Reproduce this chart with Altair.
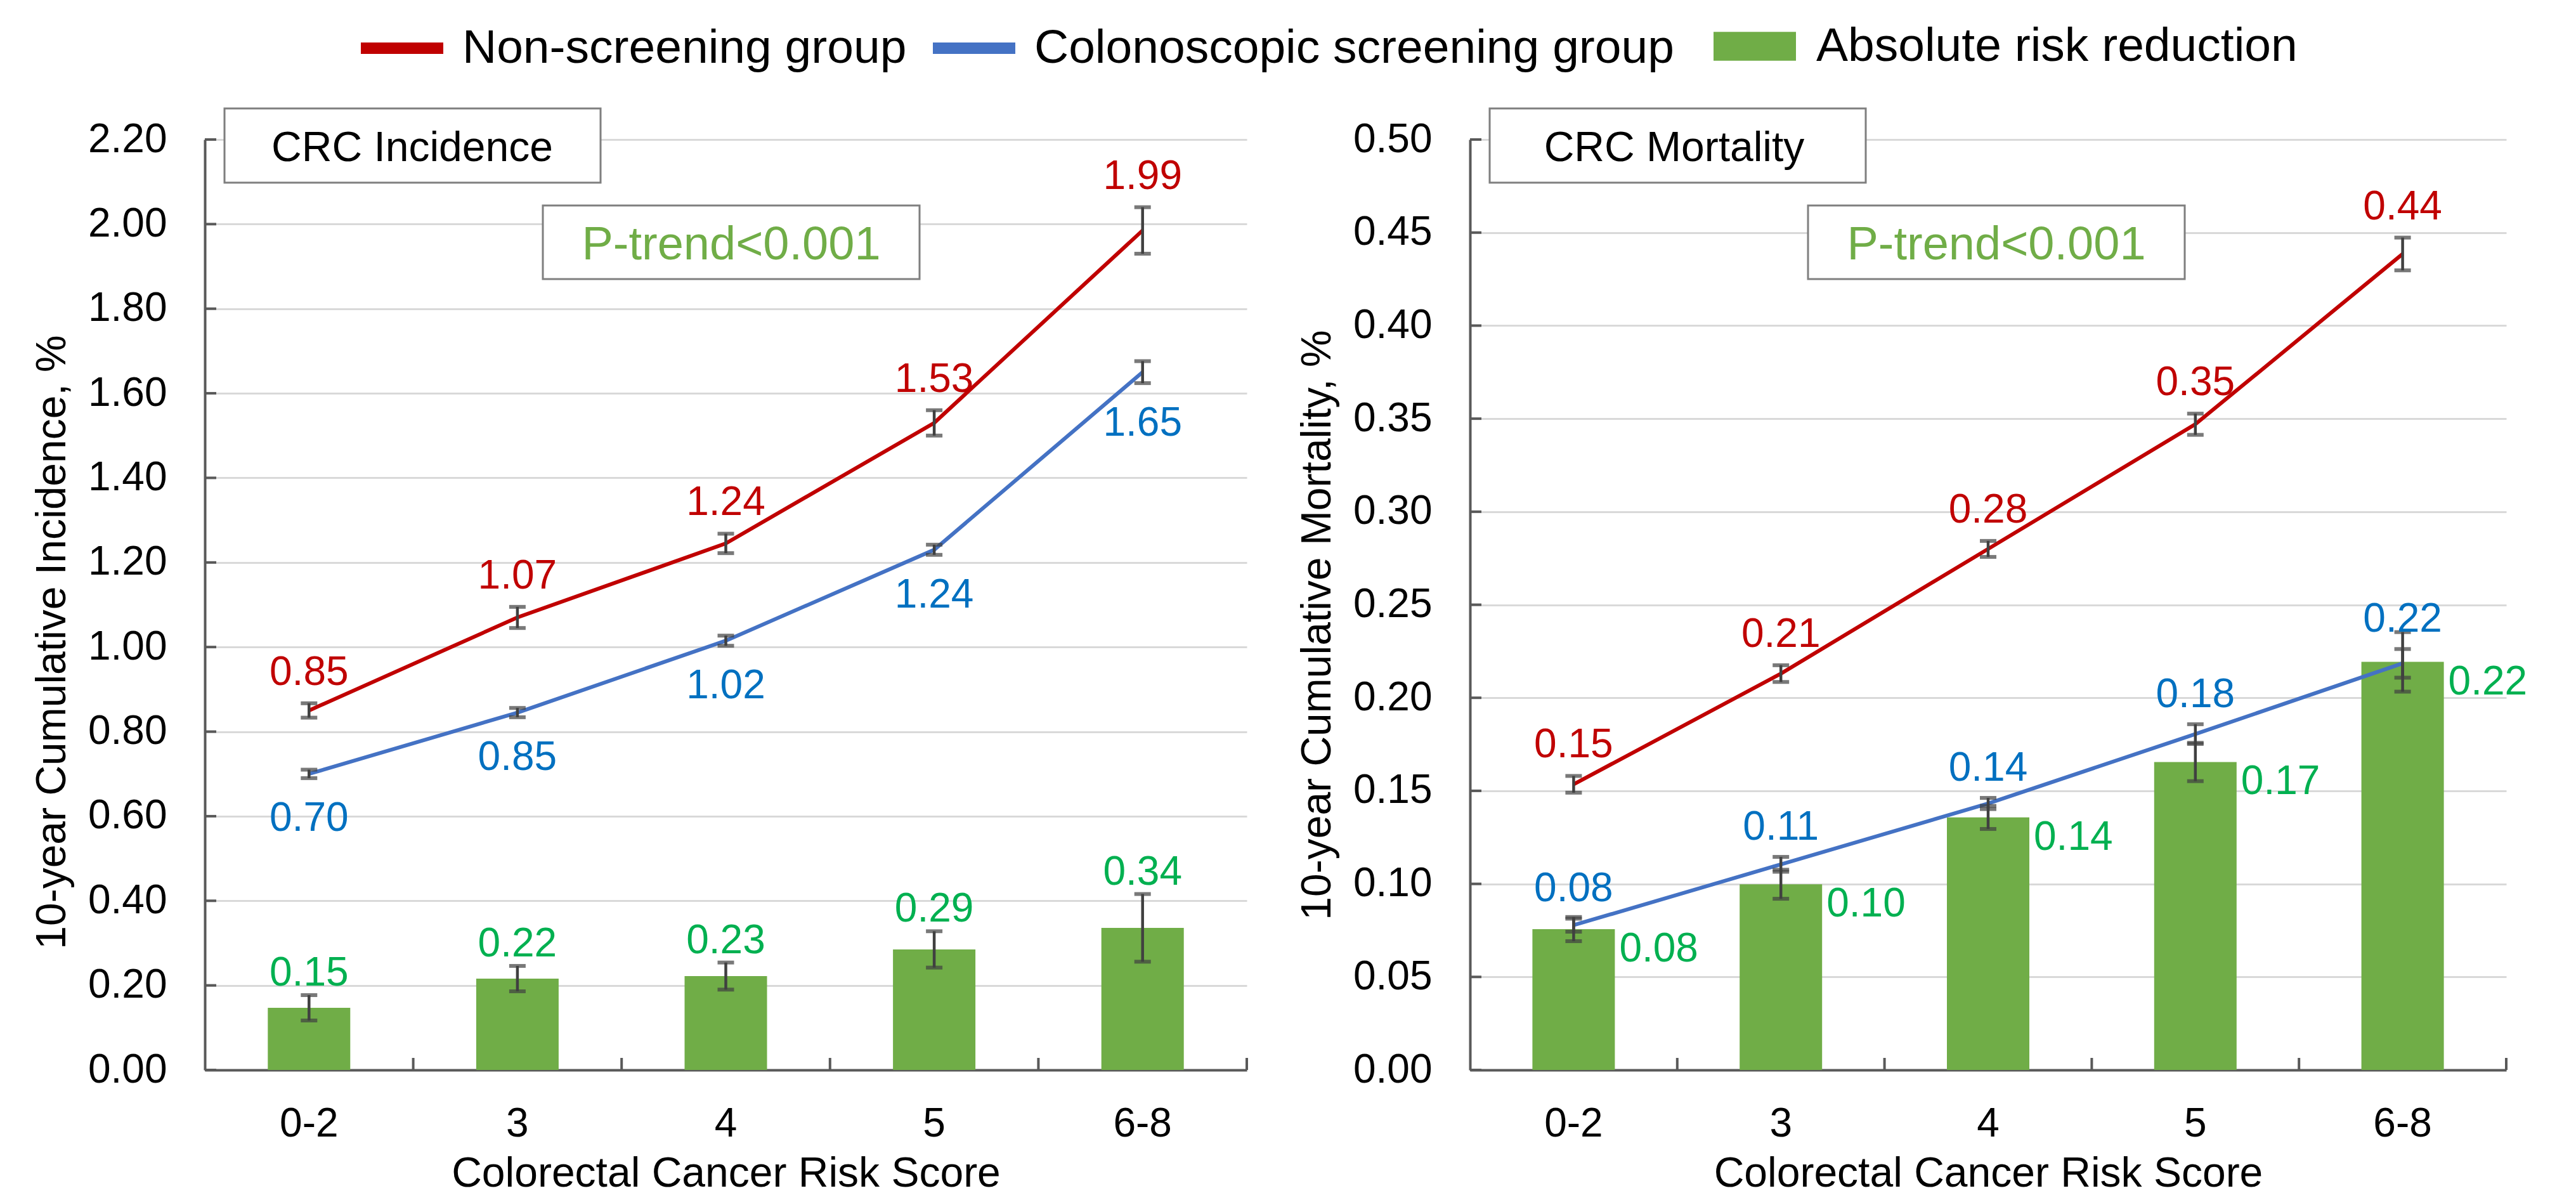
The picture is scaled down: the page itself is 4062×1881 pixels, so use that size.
import altair as alt
import pandas as pd

categories = ["0-2", "3", "4", "5", "6-8"]
series = ["Non-screening group", "Colonoscopic screening group", "Absolute risk reduction"]
line_colors = ["#C00000", "#4472C4"]
bar_color = "#70AD47"
label_colors = ["#C00000", "#0070C0", "#00B050"]

# CRC incidence (%)
inc_non = [0.85, 1.07, 1.245, 1.53, 1.985]
inc_non_err = [0.017, 0.025, 0.023, 0.030, 0.055]
inc_non_labels = ["0.85", "1.07", "1.24", "1.53", "1.99"]
inc_col = [0.70, 0.845, 1.015, 1.23, 1.65]
inc_col_err = [0.010, 0.011, 0.012, 0.012, 0.026]
inc_col_labels = ["0.70", "0.85", "1.02", "1.24", "1.65"]
inc_arr = [0.147, 0.216, 0.222, 0.285, 0.336]
inc_arr_err = [0.030, 0.030, 0.032, 0.043, 0.080]
inc_arr_labels = ["0.15", "0.22", "0.23", "0.29", "0.34"]
inc_ticks = [0.0, 0.2, 0.4, 0.6, 0.8, 1.0, 1.2, 1.4, 1.6, 1.8, 2.0, 2.2]

# CRC mortality (%)
mor_non = [0.1535, 0.213, 0.280, 0.347, 0.4385]
mor_non_err = [0.0045, 0.0045, 0.0043, 0.0057, 0.0088]
mor_non_labels = ["0.15", "0.21", "0.28", "0.35", "0.44"]
mor_col = [0.0778, 0.1105, 0.1432, 0.1805, 0.2185]
mor_col_err = [0.0035, 0.0040, 0.0030, 0.0053, 0.0077]
mor_col_labels = ["0.08", "0.11", "0.14", "0.18", "0.22"]
mor_arr = [0.0757, 0.0998, 0.1357, 0.1655, 0.2193]
mor_arr_err = [0.0065, 0.0078, 0.0062, 0.0103, 0.0160]
mor_arr_labels = ["0.08", "0.10", "0.14", "0.17", "0.22"]
mor_ticks = [0.0, 0.05, 0.1, 0.15, 0.2, 0.25, 0.3, 0.35, 0.4, 0.45, 0.5]

panel_titles = ["CRC Incidence", "CRC Mortality"]
ptrend_text = ["P-trend<0.001"]
y_titles = ["10-year Cumulative Incidence, %", "10-year Cumulative Mortality, %"]
x_title = "Colorectal Cancer Risk Score"

FONT = "Liberation Sans"
AXIS_COLOR = "#595959"
PLOT_H = 1467


def panel_df(groups):
    rows = []
    for s, vals, errs, labs in groups:
        for c, v, e, l in zip(categories, vals, errs, labs):
            rows.append({"cat": c, "series": s, "value": v, "lo": v - e,
                         "hi": v + e, "label": l})
    return pd.DataFrame(rows)


stroke_legend = alt.Legend(
    orient="none", legendX=237, legendY=-218, direction="horizontal", title=None,
    symbolType="stroke", symbolSize=16900, symbolStrokeWidth=18,
    labelFontSize=75, labelFont=FONT, labelColor="black", labelOffset=21,
    columnPadding=5, labelLimit=0, padding=0)
fill_legend = alt.Legend(
    orient="none", legendX=2379, legendY=-212, direction="horizontal", title=None,
    symbolType="M-1,-0.35H1V0.35H-1Z", symbolSize=16900, symbolStrokeWidth=0,
    labelFontSize=75, labelFont=FONT, labelColor="black", labelOffset=32,
    labelLimit=0, padding=0)


def panel(df, ymax, ticks, ytitle, title_y, box_title, title_x, width, mode):
    xscale = alt.Scale(paddingInner=0, paddingOuter=0)
    xaxis = alt.Axis(title=x_title, labelAngle=0, ticks=False, tickSize=0,
                     labelPadding=53, titlePadding=14, grid=False,
                     domainColor=AXIS_COLOR, domainWidth=4,
                     labelFontSize=64, titleFontSize=66)
    xenc = alt.X("cat:N", sort=categories, scale=xscale, axis=xaxis)
    yaxis = alt.Axis(values=ticks, format=".2f", title=ytitle, titleY=title_y,
                     ticks=False, tickSize=0, labelPadding=60, titlePadding=22,
                     grid=True, domainColor=AXIS_COLOR, domainWidth=4,
                     labelFontSize=64, titleFontSize=66)
    yscale = alt.Scale(domain=[0, ymax], nice=False, zero=True)

    def Y(field):
        return alt.Y(f"{field}:Q", scale=yscale, axis=yaxis)

    base = alt.Chart(df).encode(x=xenc)
    is_bar = alt.datum.series == series[2]
    bars = base.transform_filter(is_bar).mark_bar(size=130).encode(
        y=Y("value"),
        fill=alt.Fill("series:N", scale=alt.Scale(domain=[series[2]], range=[bar_color]),
                      legend=fill_legend))
    lines = base.transform_filter(alt.datum.series != series[2]).mark_line(
        strokeWidth=6).encode(
        y=Y("value"),
        stroke=alt.Stroke("series:N", scale=alt.Scale(domain=series[:2], range=line_colors),
                          legend=stroke_legend))
    err = base.mark_rule(color="#404040", strokeWidth=4.5).encode(
        y=Y("lo"), y2=alt.Y2("hi:Q"))
    cap_lo = base.mark_tick(color="#404040", size=26, thickness=6).encode(y=Y("lo"))
    cap_hi = base.mark_tick(color="#404040", size=26, thickness=6).encode(y=Y("hi"))

    # inward tick marks: x ticks at band boundaries, y ticks at the tick values
    xticks = alt.Chart(pd.DataFrame({"cat": categories})).mark_rule(
        color=AXIS_COLOR, strokeWidth=4).encode(
        x=alt.X("cat:N", sort=categories, scale=xscale, axis=xaxis, bandPosition=1),
        y=alt.value(PLOT_H - 19), y2=alt.value(PLOT_H))
    yticks = alt.Chart(pd.DataFrame({"tick": ticks})).mark_rule(
        color=AXIS_COLOR, strokeWidth=4).encode(
        y=alt.Y("tick:Q", scale=yscale, axis=yaxis),
        x=alt.value(0), x2=alt.value(18))

    txt = dict(fontSize=64, font=FONT, baseline="middle")
    red_lab = base.transform_filter(alt.datum.series == series[0]).mark_text(
        dy=-48, color=label_colors[0], **txt).encode(y=Y("hi"), text="label:N")
    if mode == "inc":
        blue_lab = base.transform_filter(alt.datum.series == series[1]).mark_text(
            dy=64, color=label_colors[1], **txt).encode(y=Y("lo"), text="label:N")
        green_lab = base.transform_filter(is_bar).mark_text(
            dy=-34, color=label_colors[2], **txt).encode(y=Y("hi"), text="label:N")
    else:
        blue_lab = base.transform_filter(alt.datum.series == series[1]).mark_text(
            dy=-46, color=label_colors[1], **txt).encode(y=Y("hi"), text="label:N")
        green_lab = base.transform_filter(is_bar).mark_text(
            dx=72, dy=32, align="left", color=label_colors[2], **txt).encode(
            y=Y("value"), text="label:N")

    box1 = alt.Chart(pd.DataFrame({"t": [box_title]})).mark_rect(
        fill="white", stroke="#7f7f7f", strokeWidth=3).encode(
        x=alt.value(31), x2=alt.value(624), y=alt.value(-49), y2=alt.value(68))
    box1_t = alt.Chart(pd.DataFrame({"t": [box_title]})).mark_text(
        fontSize=66, font=FONT, color="black", baseline="middle", align="center").encode(
        x=alt.value(title_x), y=alt.value(14), text="t:N")
    box2 = alt.Chart(pd.DataFrame({"t": ptrend_text})).mark_rect(
        fill="white", stroke="#7f7f7f", strokeWidth=3).encode(
        x=alt.value(533), x2=alt.value(1127), y=alt.value(104), y2=alt.value(220))
    box2_t = alt.Chart(pd.DataFrame({"t": ptrend_text})).mark_text(
        fontSize=74, font=FONT, color=bar_color, baseline="middle", align="center").encode(
        x=alt.value(830), y=alt.value(167), text="t:N")

    return alt.layer(bars, lines, err, cap_lo, cap_hi, xticks, yticks,
                     red_lab, blue_lab, green_lab,
                     box1, box1_t, box2, box2_t).properties(width=width, height=PLOT_H)


inc_df = panel_df([(series[0], inc_non, inc_non_err, inc_non_labels),
                   (series[1], inc_col, inc_col_err, inc_col_labels),
                   (series[2], inc_arr, inc_arr_err, inc_arr_labels)])
mor_df = panel_df([(series[0], mor_non, mor_non_err, mor_non_labels),
                   (series[1], mor_col, mor_col_err, mor_col_labels),
                   (series[2], mor_arr, mor_arr_err, mor_arr_labels)])

left = panel(inc_df, 2.2, inc_ticks, y_titles[0], 792, panel_titles[0], 327, 1643, "inc")
right = panel(mor_df, 0.5, mor_ticks, y_titles[1], 765, panel_titles[1], 322, 1634, "mor")

chart = alt.hconcat(left, right, spacing=76).properties(
    padding={"left": 41, "top": -6, "right": 0, "bottom": 0}
).configure(font=FONT).configure_view(stroke=None).configure_axis(
    gridColor="#d9d9d9", gridWidth=3, labelColor="black", titleColor="black",
    titleFontWeight="normal", labelFont=FONT, titleFont=FONT
)

chart.save("out.html", embed_options={"renderer": "svg", "actions": False})
